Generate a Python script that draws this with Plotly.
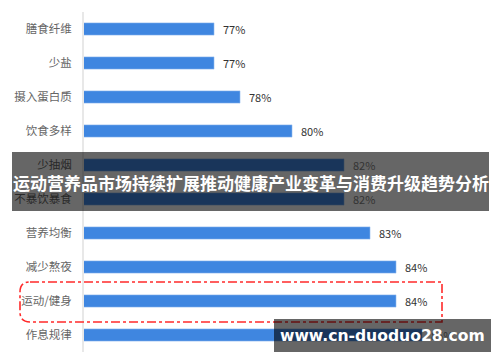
import plotly.graph_objects as go

# Survey share per healthy habit (%), listed top to bottom
categories = ["膳食纤维", "少盐", "摄入蛋白质", "饮食多样", "少抽烟",
              "不暴饮暴食", "营养均衡", "减少熬夜", "运动/健身", "作息规律"]
values = [77, 77, 78, 80, 82, 82, 83, 84, 84, 85]
labels = [f"{v}%" for v in values]

title_text = "运动营养品市场持续扩展推动健康产业变革与消费升级趋势分析"
site_text = "www.cn-duoduo28.com"
highlight = "运动/健身"

W, H = 500, 362
ML, MR, MT, MB = 84, 0, 12, 10
PW, PH = W - ML - MR, H - MT - MB


def px(x):
    return (x - ML) / PW


def py(y):
    return (H - MB - y) / PH


fig = go.Figure()
fig.add_trace(go.Bar(
    x=values, y=categories, orientation="h",
    marker=dict(color="#3f86e0", line=dict(color="#8fb8ee", width=0.6)),
    width=0.36, hoverinfo="skip",
))

annotations = [
    dict(x=v, y=c, text=t, xref="x", yref="y", showarrow=False,
         xanchor="left", xshift=7, font=dict(size=11, color="#333333"))
    for v, c, t in zip(values, categories, labels)
]

# Highlight frame around one category (rounded on the left side)
idx = categories.index(highlight)
row_px = MT + (idx + 0.5) * PH / len(categories)
x0, x1 = 20, 442
y0, y1 = row_px - 19, row_px + 21
r = 10
path = (f"M {px(x0 + r)},{py(y0)} L {px(x1)},{py(y0)} L {px(x1)},{py(y1)} "
        f"L {px(x0 + r)},{py(y1)} Q {px(x0)},{py(y1)} {px(x0)},{py(y1 - r)} "
        f"L {px(x0)},{py(y0 + r)} Q {px(x0)},{py(y0)} {px(x0 + r)},{py(y0)} Z")
shapes = [
    dict(type="path", path=path, xref="paper", yref="paper",
         line=dict(color="#ff2a2a", width=1.6, dash="dashdot"),
         fillcolor="rgba(0,0,0,0)", layer="above"),
    # title banner
    dict(type="rect", xref="paper", yref="paper",
         x0=px(12), x1=px(489), y0=py(211), y1=py(152),
         fillcolor="rgba(0,0,0,0.6)", line=dict(width=0), layer="above"),
    # site banner
    dict(type="rect", xref="paper", yref="paper",
         x0=px(274), x1=px(491), y0=py(352), y1=py(319),
         fillcolor="rgba(0,0,0,0.6)", line=dict(width=0), layer="above"),
]

annotations += [
    dict(x=px(250.5), y=py(182), xref="paper", yref="paper", text=f"<b>{title_text}</b>",
         showarrow=False, xanchor="center", yanchor="middle",
         font=dict(size=17, color="white", family="Noto Sans CJK SC")),
    dict(x=px(382), y=py(336), xref="paper", yref="paper", text=f"<b>{site_text}</b>",
         showarrow=False, xanchor="center", yanchor="middle",
         font=dict(size=15.6, color="white", family="DejaVu Sans")),
]

fig.update_layout(
    width=W, height=H,
    margin=dict(l=ML, r=MR, t=MT, b=MB),
    paper_bgcolor="white", plot_bgcolor="white",
    showlegend=False,
    font=dict(family="Noto Sans CJK SC, Noto Sans, sans-serif"),
    xaxis=dict(range=[72, 72 + PW / 26], visible=False, fixedrange=True),
    yaxis=dict(autorange="reversed", showline=True, linecolor="#e8e8e8", linewidth=2,
               ticks="", ticklabelstandoff=8, showgrid=False,
               tickfont=dict(size=11.5, color="#666666")),
    shapes=shapes, annotations=annotations,
)

fig.write_html("out.html")
